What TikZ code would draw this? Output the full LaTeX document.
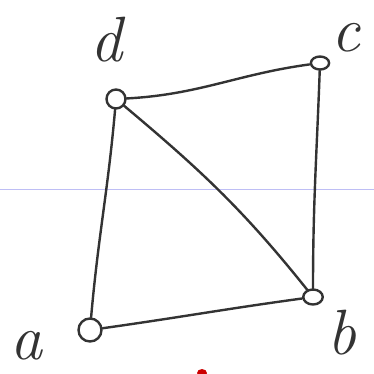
\documentclass[tikz,border=0pt]{standalone}
\begin{document}
\begin{tikzpicture}[x=1pt,y=-1pt,
  vtx/.style={draw=black!80,line width=2.4pt,circle,inner sep=0pt},
  edge/.style={draw=black!80,line width=2.4pt,line cap=round},
  lbl/.style={font=\itshape\fontsize{64}{64}\selectfont,text=black!80,inner sep=0pt}]
\useasboundingbox[fill=white] (0,0) rectangle (374,373);
% faint ruled line
\definecolor{ruleblue}{RGB}{190,190,245}
\draw[ruleblue,line width=1pt] (0,189) -- (374,189);
% red mark at the bottom
\begin{scope}
\clip (0,0) rectangle (374,373);
\fill[red!80!black] (202,373) ellipse (5pt and 4pt);
\end{scope}
% vertices
\node[vtx,minimum width=19pt] (d) at (116,99) {};
\node[vtx,xscale=1.4,minimum width=13pt] (c) at (320,63) {};
\node[vtx,minimum width=23pt] (a) at (90,330) {};
\node[vtx,xscale=1.3,minimum width=15pt] (b) at (313,297) {};
% edges
\draw[edge] (d) to[out=3,in=188] (c);
\draw[edge] (d) to[out=-95,in=85] (a);
\draw[edge] (d) to[out=-40,in=128] (b);
\draw[edge] (c) to[out=-92,in=90] (b);
\draw[edge] (a) to[out=8,in=188] (b);
% labels
\node[lbl] (ld) at (106,40) {d};
\node[lbl] (lc) at (346,38) {c};
\node[lbl] (la) at (26,346) {a};
\node[lbl] (lb) at (342,333) {b};
\end{tikzpicture}
\end{document}
